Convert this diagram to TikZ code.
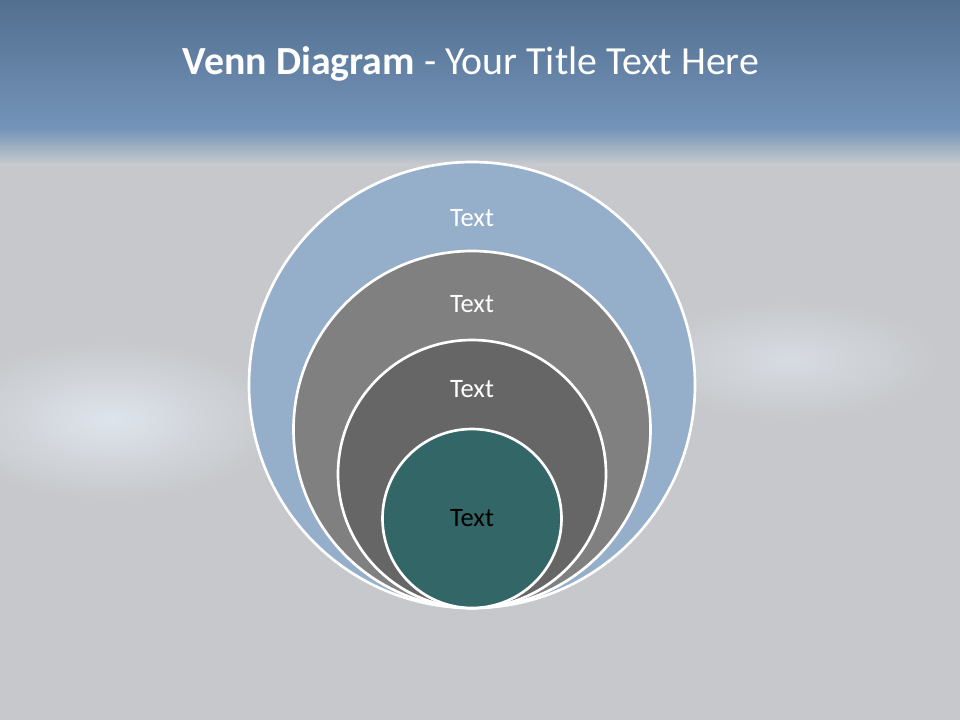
\documentclass[tikz,border=0pt]{standalone}
\usepackage{fontspec}
\setmainfont{Carlito}
\usepackage{tikz}
\usetikzlibrary{positioning}
\definecolor{headtop}{RGB}{82,111,143}
\definecolor{headbot}{RGB}{115,147,184}
\definecolor{mist}{RGB}{198,200,203}
\definecolor{mistlight}{RGB}{222,228,236}
\definecolor{ringblue}{RGB}{149,175,203}
\definecolor{ringgray}{RGB}{128,128,128}
\definecolor{ringdark}{RGB}{102,102,102}
\definecolor{ringteal}{RGB}{51,102,102}
\tikzset{
  ring/.style={
    circle, draw=white, line width=2pt, inner sep=0pt
  },
  ringlabel/.style={
    font=\fontsize{20}{24}\selectfont, text=white
  }
}

\begin{document}
\begin{tikzpicture}[x=0.75bp, y=-0.75bp]
  % background
  \useasboundingbox (0,0) rectangle (960,720);
  \fill[mist] (0,0) rectangle (960,720);
  \shade[inner color=mistlight, outer color=mist] (110,420) ellipse (170 and 80);
  \shade[inner color=mistlight!70!mist, outer color=mist] (790,360) ellipse (150 and 60);
  \shade[top color=headtop, bottom color=headbot] (0,0) rectangle (960,128);
  \shade[top color=headbot, bottom color=mist!95!white] (0,128) rectangle (960,165);
  \node[font=\fontsize{30}{36}\selectfont, text=white] (title) at (471,64)
    {\textbf{Venn Diagram} - Your Title Text Here};
  % nested circles, all touching at the bottom
  \node[ring, fill=ringblue, minimum size=334.5bp] (c1) at (472,385) {};
  \node[ring, fill=ringgray, minimum size=267.75bp] (c2) at (472,429.5) {};
  \node[ring, fill=ringdark, minimum size=201bp] (c3) at (472,474) {};
  \node[ring, fill=ringteal, minimum size=134.25bp] (c4) at (472,518.5) {};
  \node[ringlabel] (t1) at ([yshift=-43bp]c1.north) {Text};
  \node[ringlabel] (t2) at ([yshift=-41bp]c2.north) {Text};
  \node[ringlabel] (t3) at ([yshift=-38bp]c3.north) {Text};
  \node[ringlabel, text=black] (t4) at (c4) {Text};
\end{tikzpicture}
\end{document}
